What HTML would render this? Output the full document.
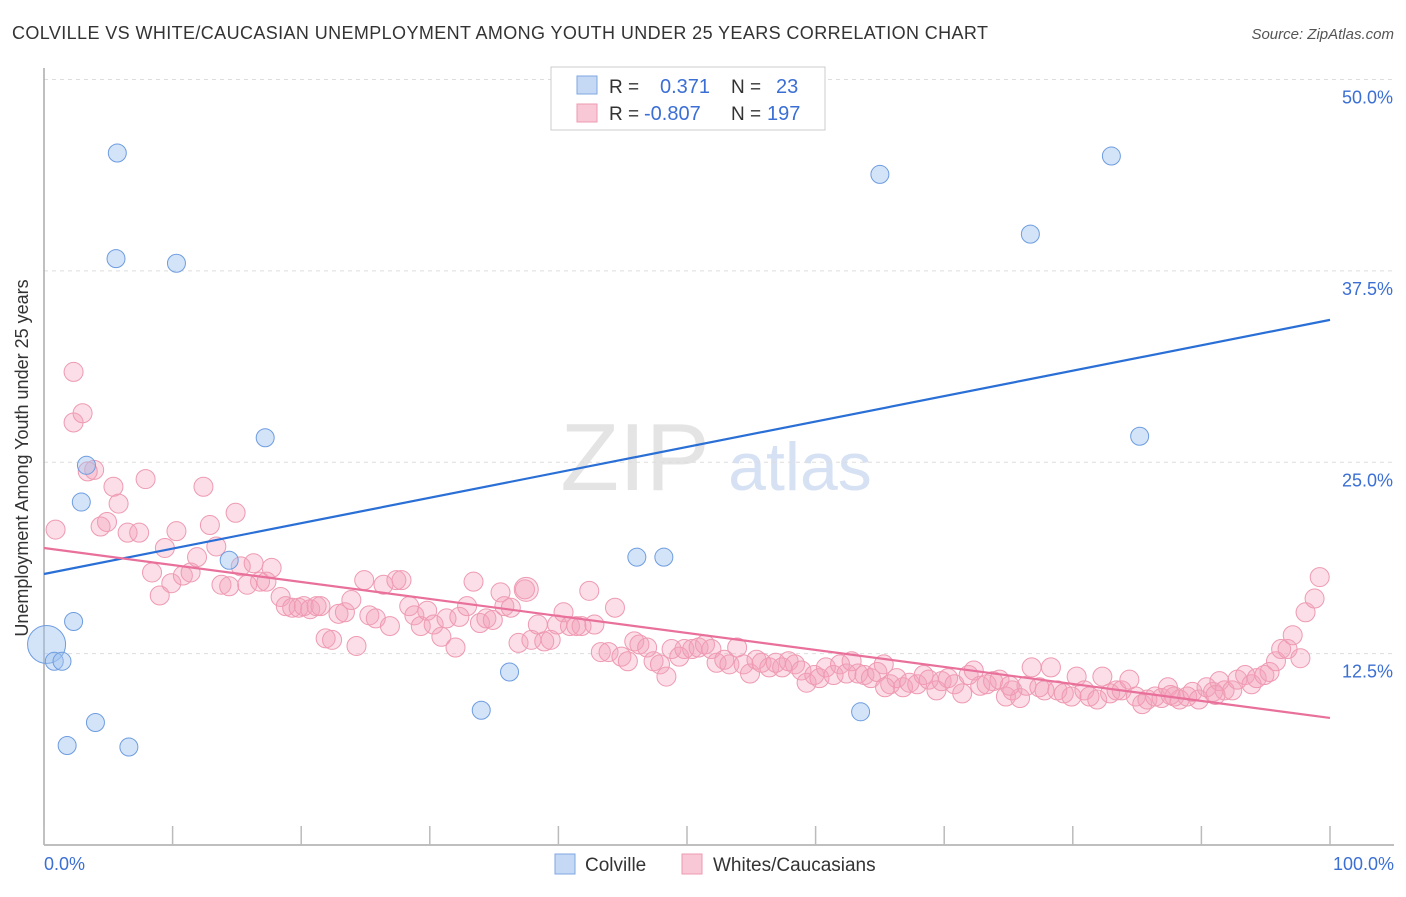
<!DOCTYPE html>
<html><head><meta charset="utf-8"><style>
body{margin:0;background:#fff;font-family:"Liberation Sans",sans-serif;}
svg text{font-family:"Liberation Sans",sans-serif;}
</style></head><body>
<svg id="chart" width="1406" height="892" xmlns="http://www.w3.org/2000/svg">
<text x="12" y="39" font-size="18" fill="#333" textLength="976" lengthAdjust="spacing">COLVILLE VS WHITE/CAUCASIAN UNEMPLOYMENT AMONG YOUTH UNDER 25 YEARS CORRELATION CHART</text>
<text x="1394" y="39" font-size="15" fill="#555" font-style="italic" text-anchor="end">Source: ZipAtlas.com</text>
<g><text x="635" y="490" font-size="96" fill="#e4e4e4" font-family="Liberation Serif" text-anchor="middle">ZIP</text><text x="800" y="490" font-size="68" fill="#d6e2f4" text-anchor="middle">atlas</text></g>
<g id="grid"></g>
<g id="axes"></g>
<g id="pink"></g>
<g id="blue"></g>
<g id="lines"></g>
<text x="28" y="458" font-size="18" fill="#333" text-anchor="middle" transform="rotate(-90 28 458)">Unemployment Among Youth under 25 years</text>
<text x="44" y="870" font-size="18" fill="#3b6fd4">0.0%</text>
<text x="1394" y="870" font-size="18" fill="#3b6fd4" text-anchor="end">100.0%</text>
<g>
<rect x="551" y="67" width="274" height="63" fill="#fff" stroke="#ccc"/>
<rect x="577" y="76" width="20" height="18" fill="#c5d9f5" stroke="#7fa7e3"/>
<rect x="577" y="104" width="20" height="18" fill="#f9c8d6" stroke="#ee9ab2"/>
<text x="609" y="93" font-size="19" fill="#333">R = </text><text x="660" y="93" font-size="20" fill="#3b6fd4">0.371</text>
<text x="731" y="93" font-size="19" fill="#333">N = </text><text x="776" y="93" font-size="20" fill="#3b6fd4">23</text>
<text x="609" y="120" font-size="19" fill="#333">R = </text><text x="644" y="120" font-size="20" fill="#3b6fd4">-0.807</text>
<text x="731" y="120" font-size="19" fill="#333">N = </text><text x="767" y="120" font-size="20" fill="#3b6fd4">197</text>
</g>
<g>
<rect x="555" y="854" width="20" height="20" fill="#c5d9f5" stroke="#7fa7e3"/>
<text x="585" y="871" font-size="19" fill="#333">Colville</text>
<rect x="682" y="854" width="20" height="20" fill="#f9c8d6" stroke="#ee9ab2"/>
<text x="713" y="871" font-size="19" fill="#333">Whites/Caucasians</text>
</g>
</svg>
<script>
const yTicks=[12.5,25,37.5,50];
const yTickLabels=["12.5%","25.0%","37.5%","50.0%"];
const xTicks=[0,10,20,30,40,50,60,70,80,90,100];
const blueX=[5.7,5.6,10.3,17.2,3.3,2.9,14.4,2.3,0.2,0.8,1.4,4.0,1.8,6.6,34.0,36.2,46.1,48.2,65.0,63.5,76.7,83.0,85.2];
const blueY=[45.2,38.3,38.0,26.6,24.8,22.4,18.6,14.6,13.1,12.0,12.0,8.0,6.5,6.4,8.8,11.3,18.8,18.8,43.8,8.7,39.9,45.0,26.7];
const blueR=[9,9,9,9,9,9,9,9,19,9,9,9,9,9,9,9,9,9,9,9,9,9,9];
const pinkX=[0.9,2.3,3.0,2.3,3.9,3.4,4.4,4.9,5.4,5.8,6.5,7.4,7.9,8.4,9.0,9.4,9.9,10.3,10.8,11.4,11.9,12.4,12.9,13.4,13.8,14.4,14.9,15.3,15.8,16.3,16.8,17.3,17.7,18.4,18.8,19.3,19.8,20.2,20.7,21.2,21.5,21.9,22.4,22.9,23.4,23.9,24.3,24.9,25.3,25.8,26.4,26.9,27.4,27.8,28.4,28.8,29.3,29.8,30.3,30.9,31.3,32.0,32.3,32.9,33.4,33.9,34.4,34.9,35.5,35.8,36.3,36.9,37.4,37.9,38.4,38.9,39.4,39.9,40.4,40.9,41.4,41.8,42.4,42.8,43.3,43.9,44.4,44.9,45.4,45.9,46.3,46.9,47.4,47.9,48.4,48.8,49.4,49.8,50.4,50.9,51.4,51.9,52.3,52.9,53.3,53.9,54.4,54.9,55.4,55.8,56.4,56.9,57.4,57.9,58.4,58.9,59.3,59.9,60.3,60.8,61.4,61.9,62.4,62.8,63.3,63.8,64.3,64.8,65.3,65.8,66.3,66.8,67.3,67.9,68.4,68.8,69.4,69.8,70.3,70.8,71.4,71.9,72.3,72.8,73.3,73.8,74.3,74.8,75.3,75.9,76.4,76.8,77.4,77.8,78.3,78.8,79.3,79.9,80.3,80.9,81.3,81.9,82.3,82.9,83.4,83.8,84.4,84.9,85.4,85.8,86.4,86.9,87.4,87.9,88.3,88.9,89.3,89.8,90.4,90.9,91.4,91.8,92.4,92.8,93.4,93.9,94.3,94.9,95.3,95.8,96.2,96.7,97.1,97.7,98.1,98.8,99.2,91.1,87.6,75.1,65.4,37.5];
const pinkY=[20.6,27.6,28.2,30.9,24.5,24.4,20.8,21.1,23.4,22.3,20.4,20.4,23.9,17.8,16.3,19.4,17.1,20.5,17.6,17.8,18.8,23.4,20.9,19.5,17.0,16.9,21.7,18.2,17.0,18.4,17.2,17.2,18.1,16.2,15.6,15.5,15.5,15.6,15.4,15.6,15.6,13.5,13.4,15.1,15.2,16.0,13.0,17.3,15.0,14.8,17.0,14.3,17.3,17.3,15.6,15.0,14.3,15.3,14.4,13.6,14.8,12.9,14.9,15.6,17.2,14.5,14.8,14.7,16.5,15.6,15.5,13.2,16.7,13.4,14.4,13.3,13.4,14.4,15.2,14.3,14.3,14.3,16.6,14.4,12.6,12.6,15.5,12.3,12.0,13.3,13.1,12.9,12.0,11.8,11.0,12.8,12.3,12.8,12.8,12.9,13.1,12.8,11.9,12.1,11.8,12.9,11.8,11.2,12.1,11.9,11.6,11.9,11.6,12.0,11.8,11.4,10.6,11.1,10.9,11.6,11.1,11.8,11.2,12.0,11.2,11.1,10.9,11.3,11.8,10.5,10.9,10.3,10.6,10.5,11.1,10.8,10.1,10.7,10.9,10.5,9.9,11.1,11.4,10.4,10.5,10.7,10.8,9.7,10.1,9.6,10.4,11.6,10.3,10.1,11.6,10.1,9.9,9.7,11.0,10.1,9.7,9.5,11.0,9.9,10.1,10.1,10.8,9.7,9.2,9.5,9.7,9.6,10.3,9.7,9.5,9.7,10.0,9.5,10.3,10.0,10.7,10.1,10.1,10.8,11.1,10.5,10.9,11.1,11.3,12.0,12.8,12.8,13.7,12.2,15.2,16.1,17.5,9.8,9.8,10.4,10.3,16.7];
const blueLine=[17.7,34.3];
const pinkLine=[19.4,8.3];
const NS="http://www.w3.org/2000/svg";
const X0=44,X1=1330,Y0=845,PX=15.31;
function xs(v){return X0+(X1-X0)*v/100;}
function ys(v){return Y0-v*PX;}
function mk(tag,attrs,parent){const e=document.createElementNS(NS,tag);for(const k in attrs)e.setAttribute(k,attrs[k]);document.getElementById(parent).appendChild(e);return e;}
yTicks.forEach((t,i)=>{
 const g=mk('line',{x1:44,x2:1394,y1:ys(t),y2:ys(t),stroke:'#ddd','stroke-dasharray':'4,4'},'grid');
 
 
 const l=mk('text',{x:1393,y:ys(t)+24,'font-size':18,fill:'#3b6fd4','text-anchor':'end'},'grid');
 l.textContent=yTickLabels[i];
 
 
});
const ax=mk('line',{x1:44,x2:1394,y1:Y0,y2:Y0,stroke:'#aaa','stroke-width':1.5},'axes');


const ay=mk('line',{x1:44,x2:44,y1:68,y2:Y0,stroke:'#aaa','stroke-width':1.5},'axes');


xTicks.forEach(t=>{
 const e=mk('line',{x1:xs(t),x2:xs(t),y1:826,y2:Y0,stroke:'#bbb','stroke-width':1.5},'axes');
 
 
});
pinkX.forEach((v,i)=>{
 const c=mk('circle',{cx:xs(v),cy:ys(pinkY[i]),r:i==pinkX.length-1?12:9.5,fill:'rgba(244,160,185,0.35)',stroke:'#ee9ab2','stroke-width':1},'pink');
 
 
});
blueX.forEach((v,i)=>{
 const c=mk('circle',{cx:xs(v),cy:ys(blueY[i]),r:blueR[i],fill:'rgba(160,195,240,0.45)',stroke:'#6d9ce0','stroke-width':1},'blue');
 
 
});
const bl=mk('line',{x1:xs(0),x2:xs(100),y1:ys(blueLine[0]),y2:ys(blueLine[1]),stroke:'#2a6fd6','stroke-width':2.2},'lines');


const pl=mk('line',{x1:xs(0),x2:xs(100),y1:ys(pinkLine[0]),y2:ys(pinkLine[1]),stroke:'#e8709a','stroke-width':2.2},'lines');


</script>
</body></html>
